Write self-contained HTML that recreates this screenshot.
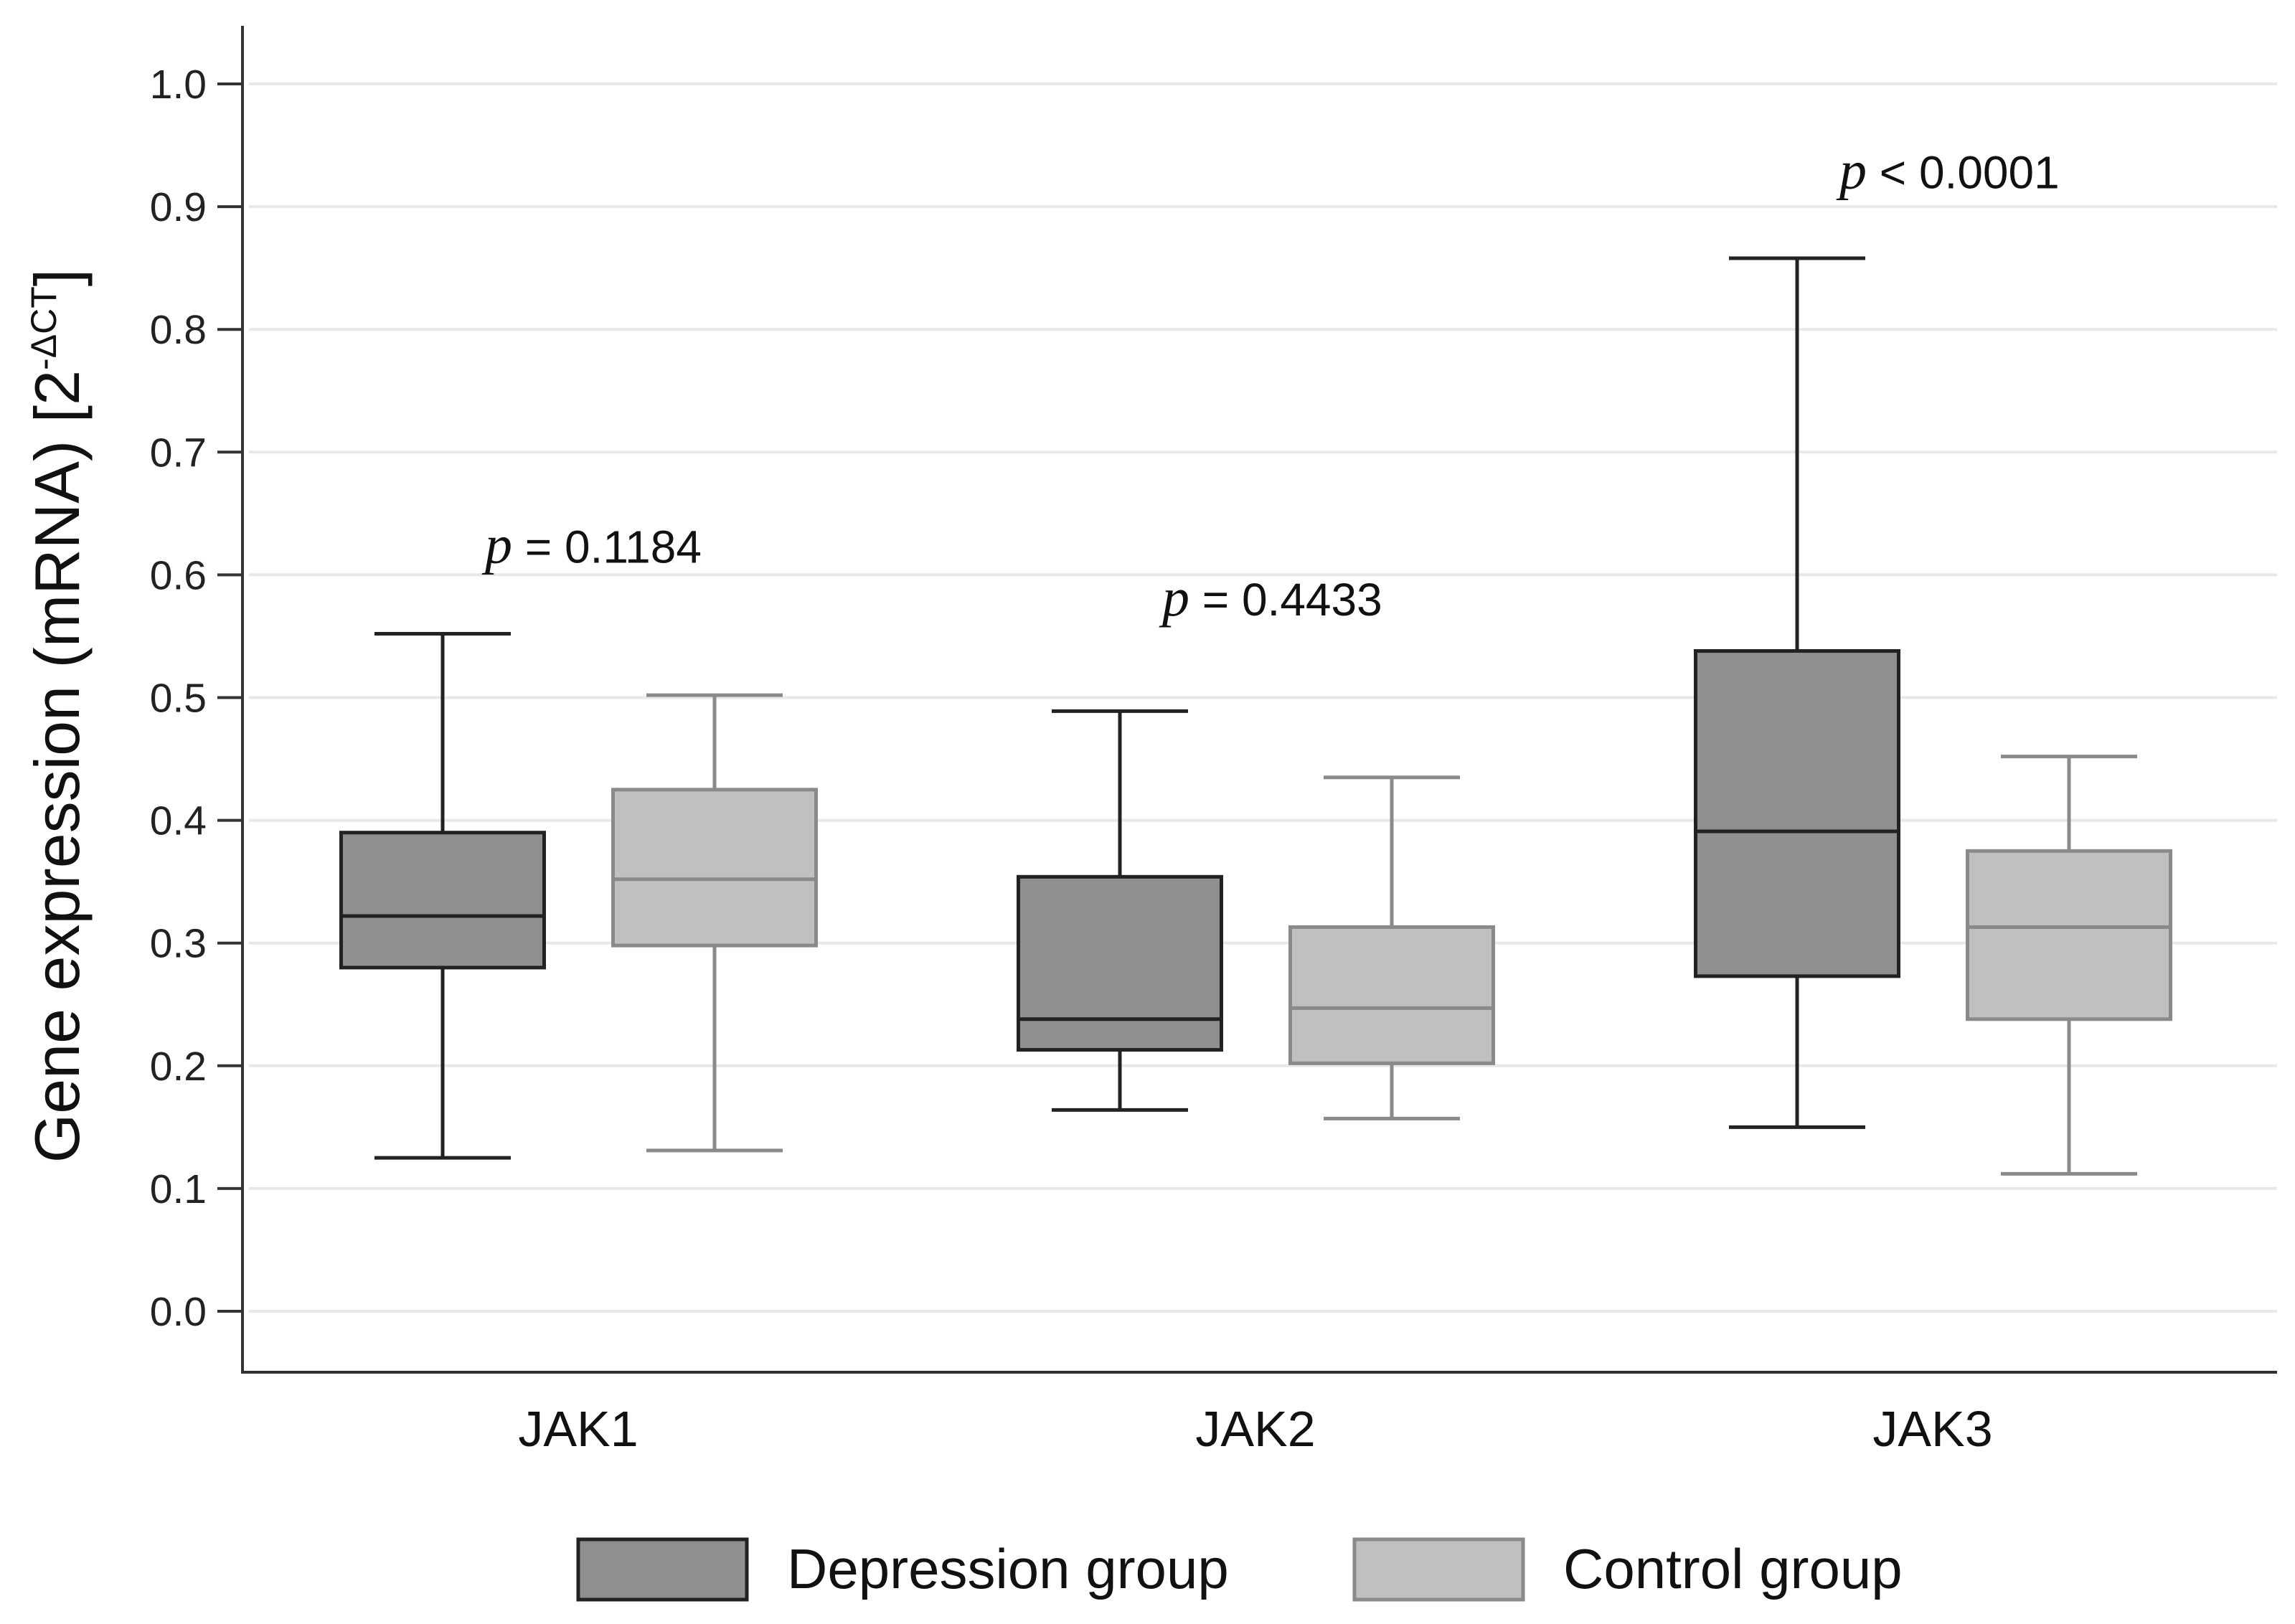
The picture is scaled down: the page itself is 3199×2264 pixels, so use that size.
<!DOCTYPE html>
<html><head><meta charset="utf-8"><style>html,body{margin:0;padding:0;background:#fff}svg{display:block}</style></head>
<body>
<svg id="chart" width="3199" height="2264" viewBox="0 0 3199 2264" xmlns="http://www.w3.org/2000/svg" font-family="Liberation Sans, Arial, sans-serif">
<rect width="3199" height="2264" fill="#fff"/>
<g id="grid"></g>
<g id="yticks"></g>
<line x1="338" y1="36" x2="338" y2="1913" stroke="#333" stroke-width="4"/>
<line x1="336" y1="1913" x2="3174" y2="1913" stroke="#333" stroke-width="4"/>
<g id="boxes"></g>
<g id="xlabels"></g>
<text transform="translate(110,998) rotate(-90)" text-anchor="middle" font-size="88" fill="#111">Gene expression (mRNA) [2<tspan font-size="50" dy="-32">-ΔCT</tspan><tspan dy="32">]</tspan></text>
<g>
<rect x="806" y="2146" width="235" height="84" fill="#8f8f8f" stroke="#222" stroke-width="5"/>
<text x="1097" y="2214" font-size="78" fill="#111">Depression group</text>
<rect x="1888" y="2146" width="235" height="84" fill="#c0c0c0" stroke="#8a8a8a" stroke-width="5"/>
<text x="2179" y="2214" font-size="78" fill="#111">Control group</text>
</g>
</svg>
<script>
const categories = ["JAK1","JAK2","JAK3"];
const pValues = [" = 0.1184"," = 0.4433"," < 0.0001"];
const pLabelY = [0.61, 0.567, 0.915];
const depMin = [0.125,0.164,0.150];
const depQ1 = [0.280,0.213,0.273];
const depMed = [0.322,0.238,0.391];
const depQ3 = [0.390,0.354,0.538];
const depMax = [0.552,0.489,0.858];
const ctrlMin = [0.131,0.157,0.112];
const ctrlQ1 = [0.298,0.202,0.238];
const ctrlMed = [0.352,0.247,0.313];
const ctrlQ3 = [0.425,0.313,0.375];
const ctrlMax = [0.502,0.435,0.452];
const yTicks = [0,0.1,0.2,0.3,0.4,0.5,0.6,0.7,0.8,0.9,1.0];

const NS="http://www.w3.org/2000/svg";
function y(v){return 1828-(v/1.0)*(1828-117);}
function xc(i){return 806+i*944;}
function mk(tag,attrs,parent){const e=document.createElementNS(NS,tag);for(const k in attrs)e.setAttribute(k,attrs[k]);parent.appendChild(e);return e;}
const grid=document.getElementById('grid'),yt=document.getElementById('yticks'),bx=document.getElementById('boxes'),xl=document.getElementById('xlabels');
yTicks.forEach(t=>{
  const g=mk('line',{x1:347,x2:3174,y1:y(t),y2:y(t),stroke:'#e8e8e8','stroke-width':4},grid);
  
  
  const tk=mk('line',{x1:303,x2:338,y1:y(t),y2:y(t),stroke:'#333','stroke-width':4},yt);
  
  
  const tx=mk('text',{x:288,y:y(t)+20,'text-anchor':'end','font-size':57,fill:'#222'},yt);
  
  
  tx.textContent=t.toFixed(1);
});
function box(cx,mn,q1,md,q3,mx,fill,stroke,name){
  const g=mk('g',{},bx);
  
  
  const w=283,cw=190,sw=5;
  mk('line',{x1:cx,x2:cx,y1:y(mx),y2:y(q3),stroke:stroke,'stroke-width':sw},g);
  mk('line',{x1:cx,x2:cx,y1:y(q1),y2:y(mn),stroke:stroke,'stroke-width':sw},g);
  mk('line',{x1:cx-cw/2,x2:cx+cw/2,y1:y(mx),y2:y(mx),stroke:stroke,'stroke-width':sw},g);
  mk('line',{x1:cx-cw/2,x2:cx+cw/2,y1:y(mn),y2:y(mn),stroke:stroke,'stroke-width':sw},g);
  mk('rect',{x:cx-w/2,y:y(q3),width:w,height:y(q1)-y(q3),fill:fill,stroke:stroke,'stroke-width':sw},g);
  mk('line',{x1:cx-w/2,x2:cx+w/2,y1:y(md),y2:y(md),stroke:stroke,'stroke-width':sw},g);
}
categories.forEach((c,i)=>{
  box(xc(i)-189,depMin[i],depQ1[i],depMed[i],depQ3[i],depMax[i],'#8f8f8f','#222','box-depression-'+c.toLowerCase());
  box(xc(i)+190,ctrlMin[i],ctrlQ1[i],ctrlMed[i],ctrlQ3[i],ctrlMax[i],'#c0c0c0','#8a8a8a','box-control-'+c.toLowerCase());
  const t=mk('text',{x:xc(i),y:2016,'text-anchor':'middle','font-size':70,fill:'#111'},xl);
  
  
  t.textContent=c;
  const p=mk('text',{x:xc(i)-130,y:y(pLabelY[i]),'font-size':64,fill:'#111'},xl);
  
  
  const it=mk('tspan',{'font-family':'Liberation Serif, serif','font-style':'italic','font-size':76},p);
  it.textContent='p';
  const r=mk('tspan',{},p);
  r.textContent=pValues[i];
});
</script>
</body></html>
